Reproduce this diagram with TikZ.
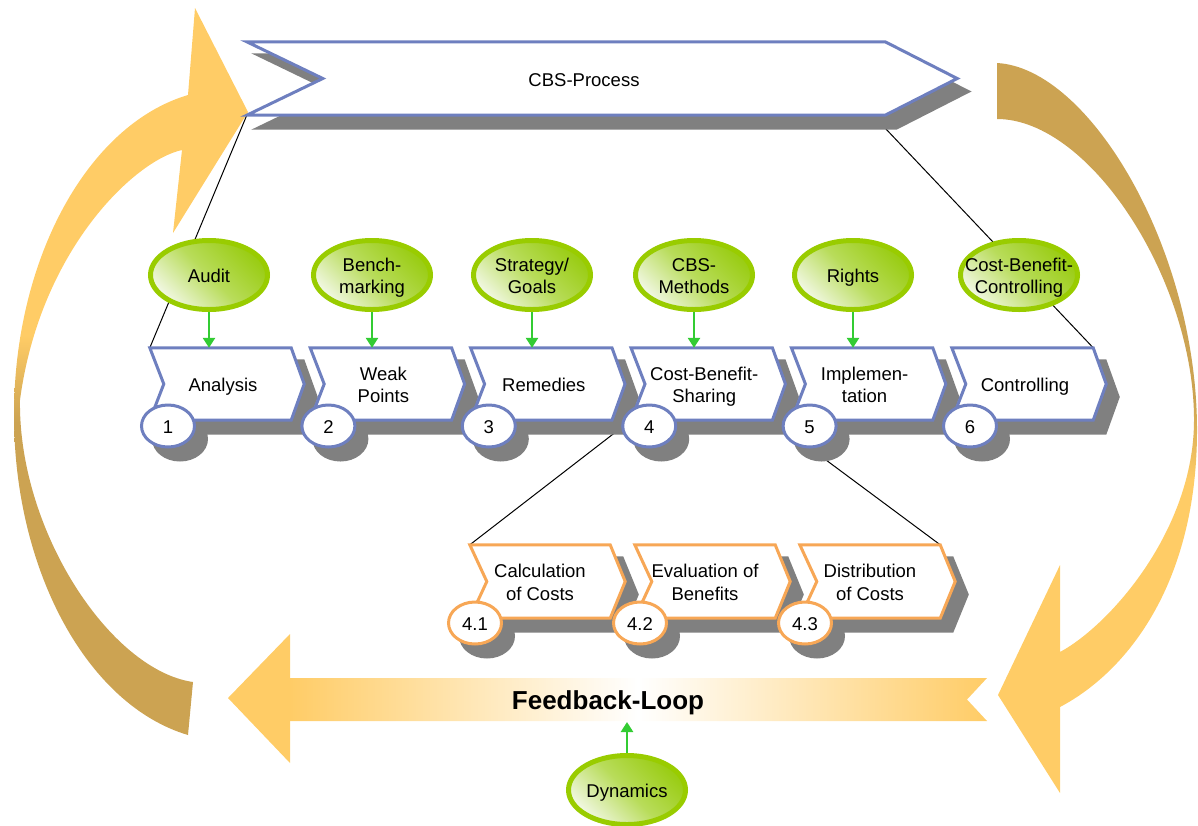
\documentclass[tikz,border=0pt]{standalone}
\usepackage{fontspec}
\setmainfont{Liberation Sans}
\usetikzlibrary{shapes.geometric,arrows.meta}
\pgfdeclarelayer{arcs}
\pgfdeclarelayer{lines}
\pgfdeclarelayer{shadows}
\pgfdeclarelayer{shapes}
\pgfsetlayers{arcs,lines,shadows,shapes,main}
\definecolor{bluec}{HTML}{6E7FBF}
\definecolor{shadowc}{HTML}{808080}
\definecolor{greenc}{HTML}{99CC00}
\definecolor{arrowgreen}{HTML}{33CC33}
\definecolor{orangec}{HTML}{F7A756}
\definecolor{arcorange}{HTML}{FFCC66}
\definecolor{arctan}{HTML}{CCA352}
\definecolor{gtop}{HTML}{99CC11}
\definecolor{gmid}{HTML}{B8DC5A}
\definecolor{gbot}{HTML}{F2F8E4}
\pgfdeclareverticalshading{leftarcshade}{100bp}{color(0bp)=(arctan); color(46.5bp)=(arctan); color(52.5bp)=(arcorange); color(100bp)=(arcorange)}
\pgfdeclareverticalshading{rightarcshade}{100bp}{color(0bp)=(arcorange); color(46.4bp)=(arcorange); color(51.9bp)=(arctan); color(100bp)=(arctan)}
\newcommand\tx[1]{\raisebox{-3pt}[\height][\depth]{\begin{tabular}{@{}c@{}}#1\end{tabular}}}
\newcommand\bx[1]{\raisebox{-3pt}[\height][\depth]{\hspace*{5pt}\begin{tabular}{@{}c@{}}#1\end{tabular}}}
\newcommand\zw[1]{\makebox[0pt]{\tx{#1}}}
\newcommand\chevron[5]{%
  \begin{pgfonlayer}{shadows}
    \path[fill=shadowc, draw=shadowc, line width=3pt, transform canvas={shift={#5}}]
      (#1.north west) -- (#1.north east) -- ([xshift=#4]#1.east) -- (#1.south east)
      -- (#1.south west) -- ([xshift=#3]#1.west) -- cycle;
  \end{pgfonlayer}
  \begin{pgfonlayer}{shapes}
    \path[fill=white, draw=#2, line width=3pt]
      (#1.north west) -- (#1.north east) -- ([xshift=#4]#1.east) -- (#1.south east)
      -- (#1.south west) -- ([xshift=#3]#1.west) -- cycle;
  \end{pgfonlayer}}
\newcommand\numshadow[1]{%
  \begin{pgfonlayer}{shadows}
    \path[fill=shadowc, draw=shadowc, line width=3pt, transform canvas={shift={(12pt,-13pt)}}]
      (#1.center) ellipse [x radius=26.5pt, y radius=21pt];
  \end{pgfonlayer}}
\begin{document}
\begin{tikzpicture}[x=1pt,y=-1pt,
  every node/.style={font=\fontsize{18.5}{22.5}\selectfont, inner sep=0pt},
  boxnode/.style={rectangle, minimum width=141, minimum height=72},
  subnode/.style={rectangle, minimum width=140, minimum height=73},
  numblue/.style={ellipse, minimum width=53, minimum height=42, draw=bluec, line width=3pt, fill=white},
  numorange/.style={numblue, draw=orangec},
  gell/.style={ellipse, minimum width=117, minimum height=69, draw=greenc, line width=5pt,
    top color=gtop, bottom color=gbot, middle color=gmid, shading angle=-45},
  garrow/.style={draw=arrowgreen, line width=2.5pt, -{Triangle[width=12pt,length=10pt]}},
  thinline/.style={draw=black, line width=1pt}]
\useasboundingbox (0,0) rectangle (1198,825);

% big curved arrows
\begin{pgfonlayer}{arcs}
\shade[shading=leftarcshade]
  (188,735) .. controls (87,705) and (14,570) .. (14,415)
  .. controls (14,260) and (87,125) .. (188,95)
  -- (195,8) -- (248,112) -- (173,233) -- (182,150)
  .. controls (135,160) and (40,250) .. (20,400)
  .. controls (18,530) and (110,670) .. (193,682) -- cycle;
\shade[shading=rightarcshade]
  (997,63) .. controls (1090,68) and (1197,250) .. (1197,430)
  .. controls (1197,580) and (1130,670) .. (1060,707)
  -- (1060,793) -- (998,695) -- (1060,565) -- (1060,652)
  .. controls (1110,625) and (1194,530) .. (1194,420)
  .. controls (1194,280) and (1090,119) .. (997,119) -- cycle;
% feedback arrow
\shade[left color=arcorange, right color=arcorange, middle color=white]
  (289,678) -- (987,678) -- (967,699.5) -- (987,721) -- (289,721) -- cycle;
\fill[arcorange] (228,698) -- (290,634) -- (290,763) -- cycle;
\end{pgfonlayer}

% banner
\node[rectangle, minimum width=638, minimum height=73] (bn) at (566,78.5) {\hspace*{36pt}\tx{CBS-Process}};
\chevron{bn}{bluec}{76pt}{72pt}{(11pt,-13pt)}

% process boxes
\node[boxnode] (b1) at (220.5,384) {\bx{Analysis}};
\node[boxnode] (b2) at (380.9,384) {\bx{Weak\\Points}};
\node[boxnode] (b3) at (541.3,384) {\bx{Remedies}};
\node[boxnode] (b4) at (701.7,384) {\bx{Cost-Benefit-\\Sharing}};
\node[boxnode] (b5) at (862.1,384) {\bx{Implemen-\\tation}};
\node[boxnode] (b6) at (1022.5,384) {\bx{Controlling}};
\foreach \b in {b1,b2,b3,b4,b5,b6}{\chevron{\b}{bluec}{14pt}{13pt}{(12pt,-13pt)}}

\node[numblue] (n1) at (168,426) {\tx{1}};
\node[numblue] (n2) at (328.4,426) {\tx{2}};
\node[numblue] (n3) at (488.8,426) {\tx{3}};
\node[numblue] (n4) at (649.2,426) {\tx{4}};
\node[numblue] (n5) at (809.6,426) {\tx{5}};
\node[numblue] (n6) at (970,426) {\tx{6}};
\foreach \n in {n1,n2,n3,n4,n5,n6}{\numshadow{\n}}

% green ellipses
\node[gell] (g1) at (209,275) {\zw{Audit}};
\node[gell] (g2) at (372,275) {\zw{Bench-\\marking}};
\node[gell] (g3) at (532,275) {\zw{Strategy/\\Goals}};
\node[gell] (g4) at (694,275) {\zw{CBS-\\Methods}};
\node[gell] (g5) at (853,275) {\zw{Rights}};
\node[gell] (g6) at (1019,275) {\zw{Cost-Benefit-\\Controlling}};
\foreach \i in {1,...,5}{\draw[garrow] (g\i.south) -- (g\i.south |- b\i.north);}

% sub boxes
\node[subnode] (s1) at (540,581.5) {\tx{Calculation\\of Costs}};
\node[subnode] (s2) at (705,581.5) {\tx{Evaluation of\\Benefits}};
\node[subnode] (s3) at (870,581.5) {\tx{Distribution\\of Costs}};
\foreach \s in {s1,s2,s3}{\chevron{\s}{orangec}{17pt}{15pt}{(12pt,-13pt)}}
\node[numorange] (m1) at (475,623) {\tx{4.1}};
\node[numorange] (m2) at (640,623) {\tx{4.2}};
\node[numorange] (m3) at (805,623) {\tx{4.3}};
\foreach \m in {m1,m2,m3}{\numshadow{\m}}

% thin connector lines
\begin{pgfonlayer}{lines}
\draw[thinline] (bn.south west) -- (b1.north west);
\draw[thinline] ([yshift=-13pt]bn.south east) -- (b6.north east);
\draw[thinline] (b4.south west) -- (s1.north west);
\draw[thinline] (b4.south east) -- (s3.north east);
\end{pgfonlayer}

% feedback
\node[font=\fontsize{26}{30}\selectfont\bfseries] (fb) at (608,700) {\tx{Feedback-Loop}};
\coordinate (fbb) at (623,722);
\node[gell] (dyn) at (627,790) {\zw{Dynamics}};
\draw[garrow] (dyn.north) -- (dyn.north |- fbb);
\end{tikzpicture}
\end{document}
